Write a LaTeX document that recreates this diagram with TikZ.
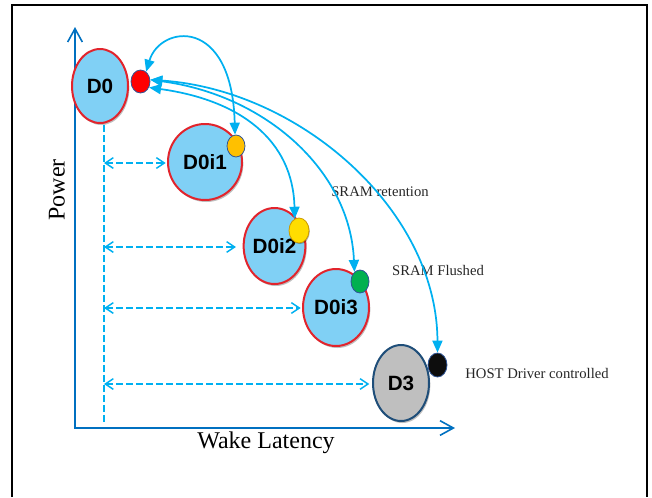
\documentclass[tikz,border=0pt]{standalone}
\usepackage{fontspec}
\setmainfont{Liberation Serif}
\setsansfont{Liberation Sans}
\usetikzlibrary{arrows.meta,shapes.geometric,shadows}

\definecolor{statefill}{HTML}{80D0F5}
\definecolor{stateedge}{HTML}{E2242C}
\definecolor{offfill}{HTML}{BFBFBF}
\definecolor{offedge}{HTML}{1F4E79}
\definecolor{axisblue}{HTML}{0070C0}
\definecolor{linkblue}{HTML}{00B0F0}
\definecolor{dotedge}{HTML}{2F5597}
\definecolor{dotred}{HTML}{FF0000}
\definecolor{dotorange}{HTML}{FFC000}
\definecolor{dotyellow}{HTML}{FFDD00}
\definecolor{dotgreen}{HTML}{00B050}
\definecolor{dotblack}{HTML}{0D0D0D}
\definecolor{notetext}{HTML}{262626}

\begin{document}
\begin{tikzpicture}[x=0.75pt,y=-0.75pt,
  state/.style={ellipse, draw=stateedge, line width=1.5pt, fill=statefill,
    inner sep=0pt, font=\sffamily\bfseries\fontsize{15.5}{18}\selectfont,
    drop shadow={shadow xshift=1pt, shadow yshift=-1.5pt, opacity=0.25, fill=black}},
  offstate/.style={state, draw=offedge, fill=offfill},
  dot/.style={ellipse, draw=dotedge, line width=0.6pt, inner sep=0pt},
  axis/.style={draw=axisblue, line width=1.5pt,
    {Straight Barb[length=10pt,width=11pt,line width=1.2pt]}-{Straight Barb[length=10pt,width=11pt,line width=1.2pt]}},
  span/.style={draw=linkblue, line width=1.1pt, dash pattern=on 5pt off 2.5pt,
    {Straight Barb[length=6pt,width=8pt]}-{Straight Barb[length=6pt,width=8pt]}},
  guide/.style={draw=linkblue, line width=1.1pt, dash pattern=on 5pt off 2.5pt},
  link/.style={draw=linkblue, line width=1.3pt, {Triangle[length=9pt,width=7.5pt]}-{Triangle[length=9pt,width=7.5pt]}},
  note/.style={text=notetext, font=\fontsize{11}{13}\selectfont, inner sep=0pt},
  axislabel/.style={font=\fontsize{18}{21}\selectfont, inner sep=0pt}]

\useasboundingbox (0,0) rectangle (652,497);

% outer frame
\draw[line width=1.5pt] (12,497) -- (12,5) -- (647,5) -- (647,497);

% axes
\coordinate (origin) at (75,428);
\coordinate (ytip) at (75,27);
\coordinate (xtip) at (455,428);
\draw[axis] (ytip) -- (origin) -- (xtip);
\node[axislabel, rotate=90] (power) at (57,190) {Power};
\node[axislabel] (latency) at (266,443) {Wake Latency};

% power states
\node[state, minimum width=42pt, minimum height=55.5pt] (d0) at (100,86) {D0};
\node[state, minimum width=55.5pt, minimum height=57pt] (d0i1) at (205,162) {D0i1};
\node[state, minimum width=44.25pt, minimum height=57pt] (d0i2) at (274.5,246) {D0i2};
\node[state, minimum width=49.5pt, minimum height=57.75pt] (d0i3) at (336,307.5) {D0i3};
\node[offstate, minimum width=42pt, minimum height=57pt] (d3) at (401,383) {D3};

% state markers
\node[dot, fill=dotred, minimum width=14.25pt, minimum height=17.25pt] (red) at (140.5,81.5) {};
\node[dot, fill=dotorange, minimum width=13.5pt, minimum height=16.5pt] (orange) at (236,146) {};
\node[dot, fill=dotyellow, draw=dotorange!80!black, minimum width=15pt, minimum height=18.75pt,
  drop shadow={shadow xshift=0.6pt, shadow yshift=-0.8pt, opacity=0.3, fill=black}] (yellow) at (299,230.5) {};
\node[dot, fill=dotgreen, minimum width=13.5pt, minimum height=17.25pt] (green) at (360,281.5) {};
\node[dot, fill=dotblack, minimum width=14.25pt, minimum height=18pt] (black) at (437.5,365) {};

% notes
\node[note] (ret) at (380,192) {SRAM retention};
\node[note] (flush) at (438,270) {SRAM Flushed};
\node[note] (host) at (537,373) {HOST Driver controlled};

% wake latency guides
\coordinate (gtop) at (104,125);
\coordinate (gbot) at (104,422);
\draw[guide] (gtop) -- (gbot);
\coordinate (g1) at (104,163);
\coordinate (g2) at (104,247);
\coordinate (g3) at (104,308);
\coordinate (g4) at (104,384);
\draw[span, shorten >=1pt] (g1) -- (g1 -| d0i1.west);
\draw[span, shorten >=5pt] (g2) -- (g2 -| d0i2.west);
\draw[span, shorten >=1pt] (g3) -- (g3 -| d0i3.west);
\draw[span, shorten >=2pt] (g4) -- (g4 -| d3.west);

% transitions between D0 and the idle states
\draw[link] (red.60) .. controls (160,25) and (232,15) .. (orange.95);
\draw[link] (red.-35) .. controls (240,100) and (293,140) .. (yellow.110);
\draw[link] (red.10) .. controls (265,95) and (350,170) .. (green.120);
\draw[link] (red.10) .. controls (300,90) and (437,210) .. (black.90);

\end{tikzpicture}
\end{document}
